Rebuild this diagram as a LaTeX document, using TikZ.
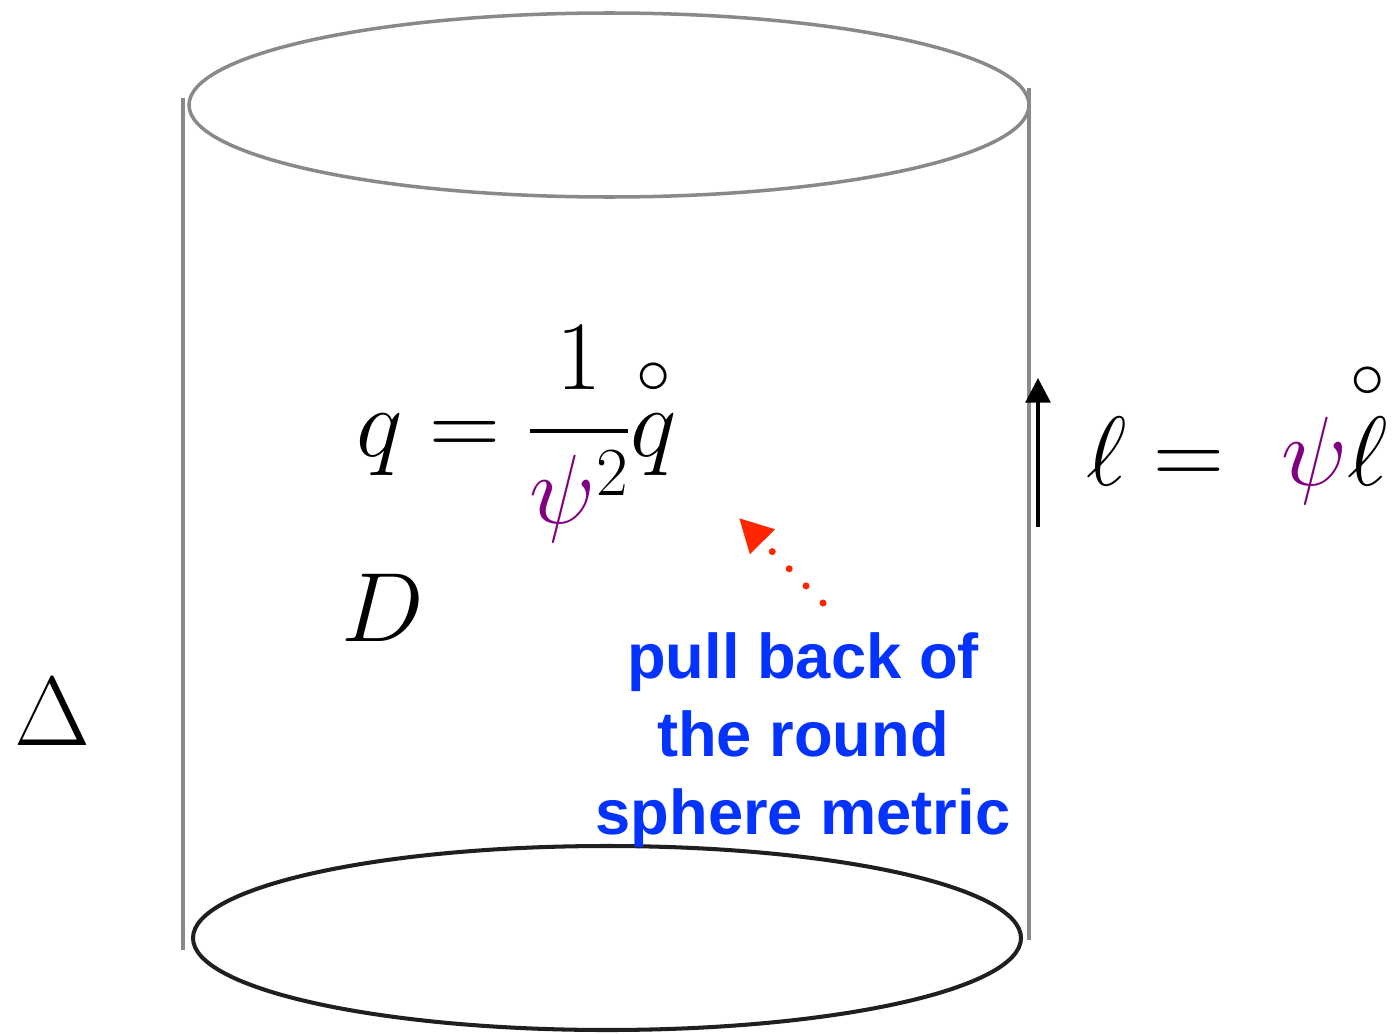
\RequirePackage{fix-cm}
\documentclass[tikz,border=0pt]{standalone}
\usepackage{amsmath,amssymb}
\usepackage{xcolor}
\usepackage{fontspec}
\newfontfamily\notefont{Liberation Sans}
\usepackage{tikz}
\usetikzlibrary{arrows.meta}

\definecolor{wallgray}{RGB}{136,137,140}
\definecolor{notered}{RGB}{255,38,0}
\definecolor{noteblue}{RGB}{4,51,255}
\definecolor{psicol}{RGB}{128,0,128}

\begin{document}
\begin{tikzpicture}[
  x=0.02cm, y=-0.02cm,
  every node/.style={inner sep=0pt, outer sep=0pt},
  wall/.style={draw=wallgray, line width=1.8pt},
  rim/.style={draw=wallgray, line width=2pt},
  base/.style={draw=black!88, line width=2.3pt},
  eqn/.style={font=\fontsize{56}{66}\selectfont},
  note/.style={font=\notefont\bfseries\fontsize{36}{44.4}\selectfont, text=noteblue, align=center},
  ptr/.style={-{Triangle[length=19pt, width=19pt]}, notered, line width=4pt, line cap=round, dash pattern=on 0pt off 13.7pt},
  flow/.style={-{Triangle[length=14pt, width=14pt]}, black, line width=2.3pt}
]
\useasboundingbox (0,0) rectangle (1399,1034);

% the cylinder
\coordinate (rimtop) at (609,105);
\coordinate (rimbot) at (607,938);
\draw[wall] (183,98) -- (183,950);
\draw[wall] (1029,88) -- (1029,940);
\draw[rim] (rimtop) ellipse [x radius=420, y radius=92];
\draw[base] (rimbot) ellipse [x radius=414, y radius=92];

% labels
\node[eqn, anchor=base west] (metricq) at (356,456)
  {$q=\dfrac{1}{{\color{psicol}\psi}^{2}}\overset{\circ}{q}$};
\node[eqn, anchor=base west] (metricl) at (1086,485)
  {$\ell=\ {\color{psicol}\psi}\overset{\circ}{\ell}$};
\node[eqn, anchor=base west] (bulk) at (341,641) {$D$};
\node[eqn, anchor=base west] (horizon) at (14,745) {$\Delta$};
\node[note] (remark) at (803,740) {pull back of\\the round\\sphere metric};

% arrows
\coordinate (flowtail) at (1038,527);
\coordinate (flowhead) at (1038,378);
\draw[flow] (flowtail) -- (flowhead);
\coordinate (ptrtail) at (823,603);
\coordinate (ptrhead) at (739,518);
\draw[ptr] (ptrtail) -- (ptrhead);
\end{tikzpicture}
\end{document}
